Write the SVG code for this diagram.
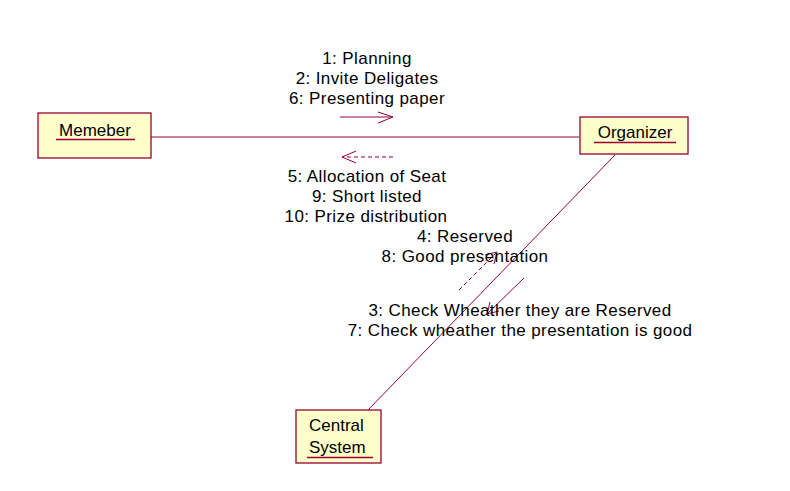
<svg xmlns="http://www.w3.org/2000/svg" width="790" height="491" viewBox="0 0 790 491">
<style>
.box{fill:#FFFFCC;stroke:#990033;stroke-width:1.3}
.ul{stroke:#990033;stroke-width:1.3}
.lnk{stroke:#990033;stroke-width:1;fill:none}
.msg{stroke:#990033;stroke-width:1;fill:none}
.dash{stroke-dasharray:4,3}
text{font-family:"Liberation Sans",Arial,sans-serif;font-size:17px;fill:#000}
.lbl{text-anchor:middle;letter-spacing:0.4px}
.nm{text-anchor:middle}
</style>
<rect width="790" height="491" fill="#fff"/>
<g id="connectors">
<line class="lnk" x1="151" y1="137" x2="579" y2="137"/>
<line class="lnk" x1="615" y1="155" x2="368" y2="410"/>
<path class="msg" d="M340,117 H393 M378,112 L393,117 L378,123"/>
<path class="msg dash" d="M393,157 H342"/>
<path class="msg" d="M356,151 L342,157 L356,163"/>
<path class="msg" d="M524,278 L487,314 M490,302 L487,314 L499,311"/>
<path class="msg dash" d="M459,290 L497,252"/>
<path class="msg" d="M485,255 L497,252 L494,264"/>
<text class="lbl" x="367" y="64">1: Planning</text>
<text class="lbl" x="367" y="84">2: Invite Deligates</text>
<text class="lbl" x="367" y="104">6: Presenting paper</text>
<text class="lbl" x="367" y="182">5: Allocation of Seat</text>
<text class="lbl" x="367" y="202">9: Short listed</text>
<text class="lbl" x="366" y="222">10: Prize distribution</text>
<text class="lbl" x="465" y="242">4: Reserved</text>
<text class="lbl" x="465" y="262">8: Good presentation</text>
<text class="lbl" x="520" y="316">3: Check Wheather they are Reserved</text>
<text class="lbl" x="520" y="336">7: Check wheather the presentation is good</text>
</g>
<g id="memeber">
<rect class="box" x="38" y="113" width="113" height="45"/>
<text class="nm" x="95" y="136">Memeber</text>
<line class="ul" x1="56" y1="139.5" x2="135" y2="139.5"/>
</g>
<g id="organizer">
<rect class="box" x="580" y="117" width="108" height="37"/>
<text class="nm" x="635" y="138">Organizer</text>
<line class="ul" x1="594" y1="142.5" x2="676" y2="142.5"/>
</g>
<g id="central-system">
<rect class="box" x="296" y="410" width="85" height="53"/>
<text x="309" y="431">Central</text>
<text x="309" y="453">System</text>
<line class="ul" x1="307" y1="457.5" x2="373" y2="457.5"/>
</g>
</svg>
